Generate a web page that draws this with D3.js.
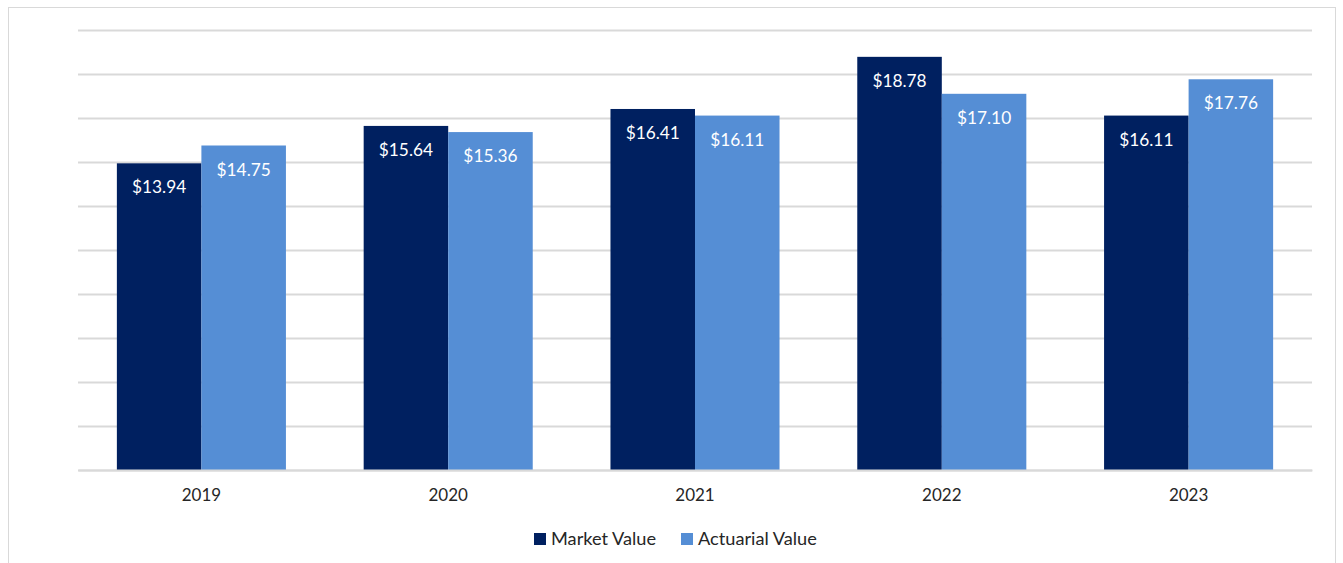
<!DOCTYPE html>
<html><head><meta charset="utf-8">
<script src="https://cdn.jsdelivr.net/npm/d3@7"></script>
<style>
html,body{margin:0;padding:0;background:#fff;}
svg{display:block;font-family:Lato,"Open Sans",sans-serif;}
</style></head>
<body>
<svg id="chart" width="1343" height="563"></svg>
<script>
const years = ["2019","2020","2021","2022","2023"];
const marketValue = [13.94, 15.64, 16.41, 18.78, 16.11];
const actuarialValue = [14.75, 15.36, 16.11, 17.10, 17.76];
const seriesNames = ["Market Value","Actuarial Value"];
const seriesColors = ["#002060","#558ED5"];
const yTicks = [0,2,4,6,8,10,12,14,16,18,20];

const svg = d3.select("#chart");
// outer frame
svg.append("rect").attr("x",8.5).attr("y",7.5).attr("width",1327).attr("height",580)
  .attr("fill","none").attr("stroke","#d9d9d9").attr("stroke-width",1);

const plotL=78, plotR=1312, plotT=30, plotB=470;
const x = d3.scaleBand().domain(years).range([plotL,plotR]).paddingInner(0.315).paddingOuter(0.1575);
const x1 = d3.scaleBand().domain(seriesNames).range([0,x.bandwidth()]);
const y = d3.scaleLinear().domain([0,20]).range([plotB,plotT]);

// gridlines
const yAxis = d3.axisLeft(y).tickValues(yTicks).tickSize(-(plotR-plotL)).tickFormat("");
const gy = svg.append("g").attr("transform",`translate(${plotL},0)`).call(yAxis);
gy.select(".domain").remove();
gy.selectAll(".tick line").attr("stroke","#d9d9d9").attr("stroke-width",2);

const data = years.map((yr,i)=>({year:yr, vals:[marketValue[i], actuarialValue[i]]}));
const groups = svg.append("g").selectAll("g").data(data).join("g")
  .attr("transform",d=>`translate(${x(d.year)},0)`);
const bars = groups.selectAll("g").data(d=>d.vals.map((v,j)=>({v,j}))).join("g");
bars.append("rect")
  .attr("x",d=>x1(seriesNames[d.j]))
  .attr("width",x1.bandwidth())
  .attr("y",d=>y(d.v))
  .attr("height",d=>y(0)-y(d.v))
  .attr("fill",d=>seriesColors[d.j]);
bars.append("text")
  .attr("x",d=>x1(seriesNames[d.j])+x1.bandwidth()/2)
  .attr("y",d=>y(d.v)+30)
  .attr("text-anchor","middle")
  .attr("fill","#fff")
  .attr("font-size",17.3)
  .text(d=>"$"+d.v.toFixed(2));

// x axis
const xAxis = d3.axisBottom(x).tickSize(0).tickPadding(19);
const gx = svg.append("g").attr("transform",`translate(0,${plotB})`).call(xAxis);
gx.select(".domain").attr("stroke","#d9d9d9").attr("stroke-width",2);
gx.selectAll("text").attr("font-size",17).attr("fill","#262626").attr("font-family","Lato,sans-serif");

// legend
const legendX=[534,681];
const lg = svg.append("g").selectAll("g").data(seriesNames).join("g")
  .attr("transform",(d,i)=>`translate(${legendX[i]},533)`);
lg.append("rect").attr("width",12).attr("height",12).attr("fill",(d,i)=>seriesColors[i]);
lg.append("text").attr("x",17).attr("y",11.5).attr("font-size",18.2).attr("fill","#262626").text(d=>d);
</script>
</body></html>
